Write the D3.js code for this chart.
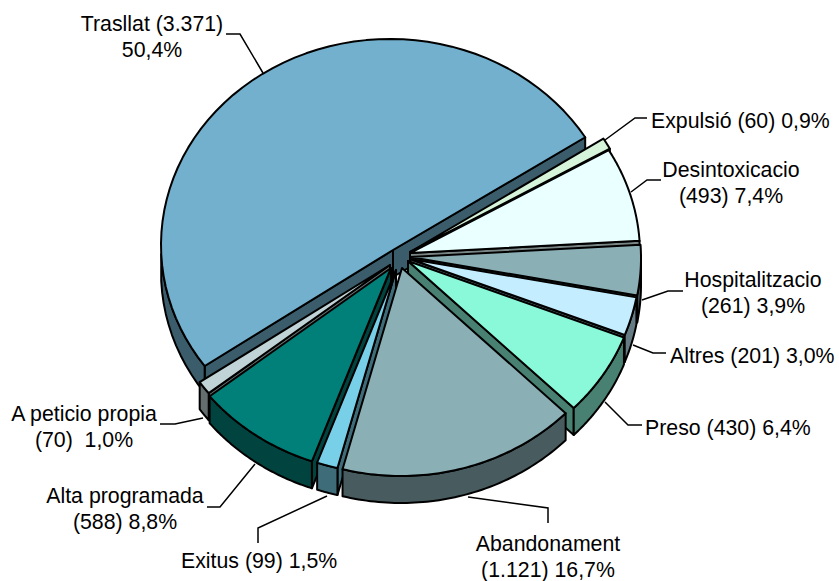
<!DOCTYPE html>
<html>
<head>
<meta charset="utf-8">
<script src="https://cdn.jsdelivr.net/npm/d3@7"></script>
<style>
  html, body { margin: 0; padding: 0; background: #fff; }
  text { font-family: "Liberation Sans", Arial, sans-serif; font-size: 21.3px; fill: #000; }
</style>
</head>
<body>
<div id="chart"></div>
<script>
const names = ["Trasllat", "Expulsió", "Desintoxicacio", "Hospitalitzacio", "Altres", "Preso", "Abandonament", "Exitus", "Alta programada", "A peticio propia"];
const counts = [3371, 60, 493, 261, 201, 430, 1121, 99, 588, 70];
const colors = ["#72b0ce", "#d5f4da", "#eaffff", "#8aafb5", "#c4eeff", "#8af9d9", "#8aafb5", "#78d0e8", "#008079", "#c0d3d6"];
const labelLines = [
  ["Trasllat (3.371)", "50,4%"],
  ["Expulsió (60) 0,9%"],
  ["Desintoxicacio", "(493) 7,4%"],
  ["Hospitalitzacio", "(261) 3,9%"],
  ["Altres (201) 3,0%"],
  ["Preso (430) 6,4%"],
  ["Abandonament", "(1.121) 16,7%"],
  ["Exitus (99) 1,5%"],
  ["Alta programada", "(588) 8,8%"],
  ["A peticio propia", "(70)  1,0%"]
];

const width = 839, height = 581;
const depth = 27;
const rx = 229, ry = 206;
const tilt = ry / rx;
const firstAngle = 57;
// exploded slices: where the tip sits and where the rim ellipse is centred
const apexAt = [[393,250],[410,252],[410,253],[410,257],[410,259],[408,261],[402,268],[396,270],[391,268],[390,265]];
const rimAt = [[390,245],[408,246],[411,254],[412,258],[411,261],[410,264],[401,270],[392,268],[388,267],[388,265]];
// near slices come last
const drawOrder = [0, 1, 2, 3, 9, 8, 4, 5, 7, 6];

// label anchor + leader polyline
const labelPos = [
  {x: 152, y: 31, a: "middle", leader: [[263,73],[240,34],[226,34]]},
  {x: 651, y: 128, a: "start", leader: [[605,140],[635,118],[647,118]]},
  {x: 731, y: 177, a: "middle", leader: [[631,192],[647,180],[661,180]]},
  {x: 753, y: 287, a: "middle", leader: [[642,300],[668,291],[683,291]]},
  {x: 670, y: 363, a: "start", leader: [[633,345],[653,353],[666,353]]},
  {x: 645, y: 435, a: "start", leader: [[605,402],[628,425],[642,425]]},
  {x: 548, y: 551, a: "middle", leader: [[468,497],[548,508],[548,523]]},
  {x: 181, y: 568, a: "start", leader: [[327,496],[258,528],[258,543]]},
  {x: 125, y: 503, a: "middle", leader: [[255,464],[220,507],[207,507]]},
  {x: 84, y: 421, a: "middle", leader: [[203,418],[175,424],[160,424]]}
];

const toRad = Math.PI / 180;
const pieAngles = d3.pie().sort(null)
  .startAngle((firstAngle - 181.4) * toRad)
  .endAngle((firstAngle - 181.4 + 360) * toRad)(counts);

function rimPoint(i, a) {
  // ray from the tip hits the slice ellipse
  const [ax, ay] = apexAt[i], [ex, ey] = rimAt[i];
  const dx = Math.sin(a), dy = -Math.cos(a) * tilt;
  const px = (ax - ex) / rx, py = (ay - ey) / ry;
  const qx = dx / rx, qy = dy / ry;
  const A = qx * qx + qy * qy, B = 2 * (px * qx + py * qy), C = px * px + py * py - 1;
  const t = (-B + Math.sqrt(B * B - 4 * A * C)) / (2 * A);
  return [ax + dx * t, ay + dy * t];
}

const slices = pieAngles.map((p, i) => {
  const a0 = p.startAngle, a1 = p.endAngle;
  const steps = d3.range(0, 61).map(k => a0 + (a1 - a0) * k / 60);
  const rim = steps.map(a => rimPoint(i, a));
  // only the part of the outer wall that faces the viewer
  const front = steps.filter(a => Math.cos(a) < 0).map(a => rimPoint(i, a));
  return {
    i, a0, a1, rim, front,
    apex: apexAt[i],
    color: colors[i],
    showStart: Math.cos(a0 - Math.PI / 2) < 0,
    showEnd: Math.cos(a1 + Math.PI / 2) < 0
  };
});

const svg = d3.select("#chart").append("svg")
  .attr("width", width)
  .attr("height", height);

const line = d3.line();
const down = p => [p[0], p[1] + depth];

function wallColor(c) {
  const r = d3.rgb(c);
  return d3.rgb(r.r * 0.52, r.g * 0.52, r.b * 0.52).formatHex();
}

const pieG = svg.append("g")
  .attr("stroke", "#000")
  .attr("stroke-width", 2)
  .attr("stroke-linejoin", "round");

drawOrder.forEach(i => {
  const s = slices[i];
  const g = pieG.append("g");
  const wall = wallColor(s.color);
  const first = s.rim[0], last = s.rim[s.rim.length - 1];
  // the two cut walls, back-facing ones stay hidden
  if (s.showStart) {
    g.append("path").attr("fill", wall)
      .attr("d", line([s.apex, first, down(first), down(s.apex)]) + "Z");
  }
  if (s.showEnd) {
    g.append("path").attr("fill", wall)
      .attr("d", line([s.apex, last, down(last), down(s.apex)]) + "Z");
  }
  // outer wall
  if (s.front.length > 1) {
    g.append("path").attr("fill", wall)
      .attr("d", line(s.front.concat(s.front.slice().reverse().map(down))) + "Z");
  }
  // top face
  g.append("path").attr("fill", s.color)
    .attr("d", line([s.apex].concat(s.rim)) + "Z");
});

// leaders
svg.append("g").selectAll("path")
  .data(labelPos)
  .join("path")
  .attr("fill", "none")
  .attr("stroke", "#000")
  .attr("stroke-width", 1.5)
  .attr("d", d => line(d.leader));

// labels
const labels = svg.append("g").selectAll("text")
  .data(labelPos)
  .join("text")
  .attr("x", d => d.x)
  .attr("y", d => d.y)
  .attr("text-anchor", d => d.a);

labels.selectAll("tspan")
  .data((d, i) => labelLines[i].map(t => ({t, x: d.x})))
  .join("tspan")
  .attr("x", d => d.x)
  .attr("dy", (d, i) => i ? 26 : 0)
  .attr("xml:space", "preserve")
  .text(d => d.t);
</script>
</body>
</html>
